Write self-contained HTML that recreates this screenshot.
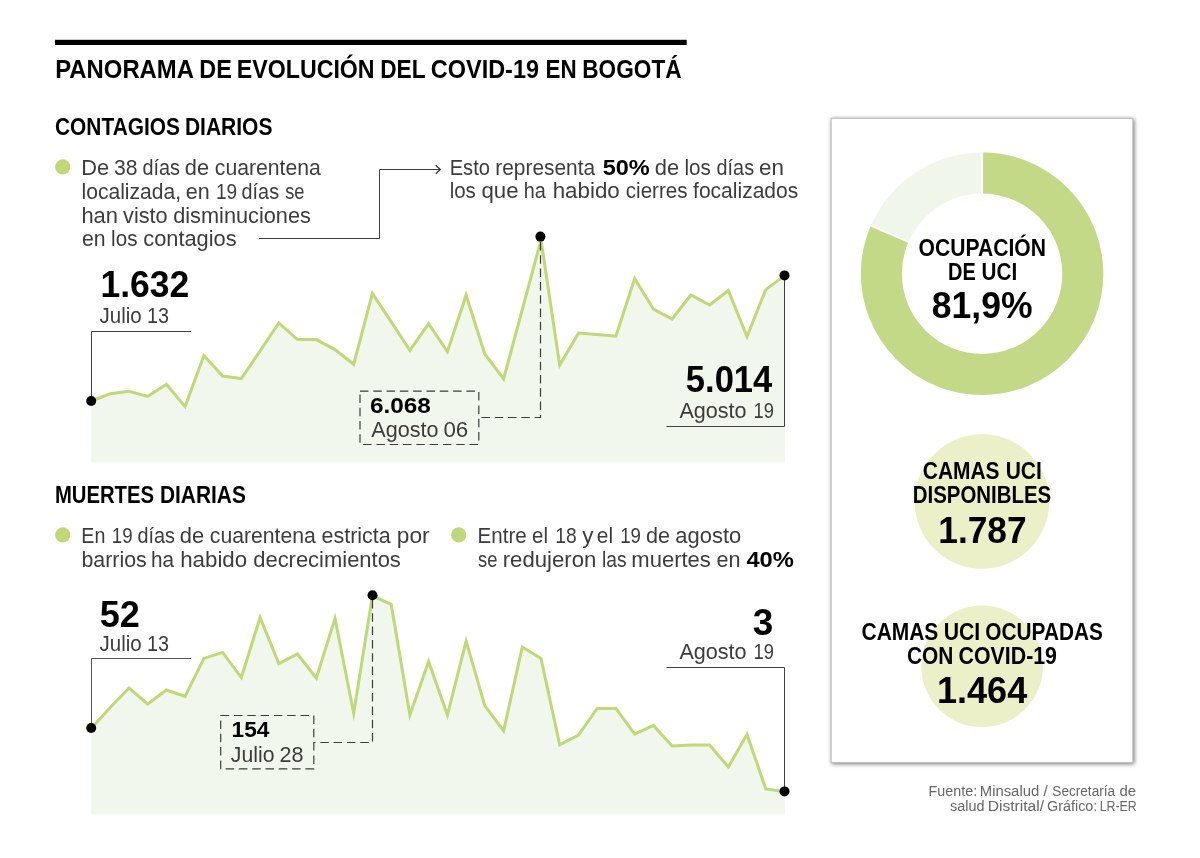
<!DOCTYPE html>
<html lang="es">
<head>
<meta charset="utf-8">
<title>Panorama de evolución del Covid-19 en Bogotá</title>
<style>
html,body{margin:0;padding:0;background:#fff;}
body{width:1200px;height:858px;overflow:hidden;}
svg{display:block;font-family:"Liberation Sans",Arial,Helvetica,sans-serif;}
text{white-space:pre;}
</style>
</head>
<body>
<svg width="1200" height="858" viewBox="0 0 1200 858">
<rect width="1200" height="858" fill="#fff"/>
<rect x="55" y="39.8" width="631.7" height="5.2" fill="#000"/>
<polygon points="91.2,462.3 91.2,401.0 91.5,401.0 110.2,393.8 129.0,391.3 147.7,396.4 166.4,384.2 185.1,406.6 203.9,355.6 222.6,376.0 241.3,378.6 260.1,351.0 278.8,323.0 297.5,339.6 316.3,339.6 335.0,349.6 353.7,364.3 372.4,293.4 391.2,321.9 409.9,350.4 428.6,323.6 447.4,351.6 466.1,295.2 484.8,354.0 503.6,379.0 522.3,309.5 541.0,240.0 559.7,365.0 578.5,333.0 597.2,334.5 615.9,336.2 634.7,278.6 653.4,309.0 672.1,319.0 690.9,295.0 709.6,305.0 728.3,290.5 747.0,336.5 765.8,289.6 784.5,275.6 785,275.6 785,462.3" fill="#f1f7ec"/>
<polyline points="91.5,401.0 110.2,393.8 129.0,391.3 147.7,396.4 166.4,384.2 185.1,406.6 203.9,355.6 222.6,376.0 241.3,378.6 260.1,351.0 278.8,323.0 297.5,339.6 316.3,339.6 335.0,349.6 353.7,364.3 372.4,293.4 391.2,321.9 409.9,350.4 428.6,323.6 447.4,351.6 466.1,295.2 484.8,354.0 503.6,379.0 522.3,309.5 541.0,240.0 559.7,365.0 578.5,333.0 597.2,334.5 615.9,336.2 634.7,278.6 653.4,309.0 672.1,319.0 690.9,295.0 709.6,305.0 728.3,290.5 747.0,336.5 765.8,289.6 784.5,275.6" fill="none" stroke="#bfd878" stroke-width="3.0" stroke-linejoin="miter" stroke-miterlimit="10"/>
<polygon points="91.2,814.2 91.2,728 91.5,728.0 110.2,707.5 129.0,688.0 147.7,704.0 166.4,690.0 185.1,696.4 203.9,658.4 222.6,652.4 241.3,677.6 260.1,617.5 278.8,663.6 297.5,654.0 316.3,678.0 335.0,618.5 353.7,713.2 372.4,596.0 391.2,604.4 409.9,715.0 428.6,661.6 447.4,715.0 466.1,641.2 484.8,705.6 503.6,731.0 522.3,647.0 541.0,658.4 559.7,744.8 578.5,735.0 597.2,708.4 615.9,708.4 634.7,734.2 653.4,725.4 672.1,746.0 690.9,745.0 709.6,745.0 728.3,767.0 747.0,734.4 765.8,789.0 784.5,791.4 785,791.4 785,814.2" fill="#f1f7ec"/>
<polyline points="91.5,728.0 110.2,707.5 129.0,688.0 147.7,704.0 166.4,690.0 185.1,696.4 203.9,658.4 222.6,652.4 241.3,677.6 260.1,617.5 278.8,663.6 297.5,654.0 316.3,678.0 335.0,618.5 353.7,713.2 372.4,596.0 391.2,604.4 409.9,715.0 428.6,661.6 447.4,715.0 466.1,641.2 484.8,705.6 503.6,731.0 522.3,647.0 541.0,658.4 559.7,744.8 578.5,735.0 597.2,708.4 615.9,708.4 634.7,734.2 653.4,725.4 672.1,746.0 690.9,745.0 709.6,745.0 728.3,767.0 747.0,734.4 765.8,789.0 784.5,791.4" fill="none" stroke="#bfd878" stroke-width="3.0" stroke-linejoin="miter" stroke-miterlimit="10"/>
<circle cx="62.7" cy="166.8" r="7.6" fill="#c0d77c"/>
<circle cx="62.7" cy="534.8" r="7.6" fill="#c0d77c"/>
<circle cx="458.7" cy="534.8" r="7.6" fill="#c0d77c"/>
<path d="M259 238.5 H379.5 V169.5 H440" fill="none" stroke="#404040" stroke-width="1"/>
<path d="M435.8 165.3 L440.3 169.5 L435.8 173.7" fill="none" stroke="#333" stroke-width="1.3"/>
<path d="M191 331.5 H91.5 V400" fill="none" stroke="#404040" stroke-width="1"/>
<circle cx="91.2" cy="401.0" r="5" fill="#000"/>
<path d="M540.5 242 V417.5 H479" fill="none" stroke="#3c3c3c" stroke-width="1.2" stroke-dasharray="8.5 4.8"/>
<path d="M360 391.2 H478.8 V444.5 H360 Z" fill="none" stroke="#3c3c3c" stroke-width="1.2" stroke-dasharray="8.5 4.8"/>
<circle cx="540.4" cy="236.6" r="5" fill="#000"/>
<path d="M666.5 426.5 H784.5 V276" fill="none" stroke="#404040" stroke-width="1"/>
<circle cx="784.5" cy="275.4" r="5" fill="#000"/>
<path d="M191 658.5 H91.5 V728" fill="none" stroke="#555" stroke-width="1"/>
<circle cx="91.2" cy="728" r="5" fill="#000"/>
<path d="M372.5 600 V742.5 H314" fill="none" stroke="#3c3c3c" stroke-width="1.2" stroke-dasharray="8.5 4.8"/>
<path d="M220.7 715.5 H313.8 V768.8 H220.7 Z" fill="none" stroke="#3c3c3c" stroke-width="1.2" stroke-dasharray="8.5 4.8"/>
<circle cx="372.5" cy="595.3" r="5" fill="#000"/>
<path d="M666.5 667.5 H784.5 V791" fill="none" stroke="#404040" stroke-width="1"/>
<circle cx="784.5" cy="791.4" r="5" fill="#000"/>
<rect x="831.2" y="118.4" width="301.6" height="644.0" fill="#fff" stroke="#c0c0c0" stroke-width="1" style="filter:drop-shadow(1.8px 1.8px 2px rgba(0,0,0,0.55))"/>
<circle cx="982.1" cy="273.7" r="100.7" fill="none" stroke="#f1f6ea" stroke-width="41.0"/>
<circle cx="982.1" cy="273.7" r="100.7" fill="none" stroke="#c4d987" stroke-width="41.0" stroke-dasharray="515.66 632.72" transform="rotate(-90 982.1 273.7)"/>
<line x1="982.10" y1="195.50" x2="982.10" y2="150.50" stroke="#fff" stroke-width="2"/>
<line x1="910.33" y1="242.64" x2="869.03" y2="224.77" stroke="#fff" stroke-width="2"/>
<circle cx="982" cy="501.5" r="67.3" fill="#ebf0c8"/>
<circle cx="982.1" cy="666.3" r="60.8" fill="#ebf0c8"/>
<text y="78.00" font-size="26.0" font-weight="700" fill="#000"><tspan x="55.20" textLength="137.92" lengthAdjust="spacingAndGlyphs">PANORAMA</tspan> <tspan x="199.22" textLength="32.59" lengthAdjust="spacingAndGlyphs">DE</tspan> <tspan x="236.74" textLength="137.89" lengthAdjust="spacingAndGlyphs">EVOLUCIÓN</tspan> <tspan x="380.19" textLength="44.96" lengthAdjust="spacingAndGlyphs">DEL</tspan> <tspan x="430.80" textLength="108.23" lengthAdjust="spacingAndGlyphs">COVID-19</tspan> <tspan x="545.49" textLength="31.12" lengthAdjust="spacingAndGlyphs">EN</tspan> <tspan x="582.28" textLength="99.27" lengthAdjust="spacingAndGlyphs">BOGOTÁ</tspan></text>
<text y="135.30" font-size="23.3" font-weight="700" fill="#000"><tspan x="55.00" textLength="124.97" lengthAdjust="spacingAndGlyphs">CONTAGIOS</tspan> <tspan x="184.95" textLength="87.50" lengthAdjust="spacingAndGlyphs">DIARIOS</tspan></text>
<text y="503.40" font-size="23.3" font-weight="700" fill="#000"><tspan x="54.89" textLength="99.20" lengthAdjust="spacingAndGlyphs">MUERTES</tspan> <tspan x="159.96" textLength="85.87" lengthAdjust="spacingAndGlyphs">DIARIAS</tspan></text>
<text y="175.00" font-size="22.4" fill="#3c3c3c"><tspan x="81.19" textLength="27.96" lengthAdjust="spacingAndGlyphs">De</tspan> <tspan x="114.06" textLength="23.50" lengthAdjust="spacingAndGlyphs">38</tspan> <tspan x="142.41" textLength="37.52" lengthAdjust="spacingAndGlyphs">días</tspan> <tspan x="184.83" textLength="24.26" lengthAdjust="spacingAndGlyphs">de</tspan> <tspan x="214.85" textLength="105.99" lengthAdjust="spacingAndGlyphs">cuarentena</tspan></text>
<text y="198.80" font-size="22.4" fill="#3c3c3c"><tspan x="81.49" textLength="99.66" lengthAdjust="spacingAndGlyphs">localizada,</tspan> <tspan x="185.74" textLength="23.91" lengthAdjust="spacingAndGlyphs">en</tspan> <tspan x="216.01" textLength="21.17" lengthAdjust="spacingAndGlyphs">19</tspan> <tspan x="241.62" textLength="37.42" lengthAdjust="spacingAndGlyphs">días</tspan> <tspan x="285.19" textLength="19.25" lengthAdjust="spacingAndGlyphs">se</tspan></text>
<text y="222.60" font-size="22.4" fill="#3c3c3c"><tspan x="81.43" textLength="36.60" lengthAdjust="spacingAndGlyphs">han</tspan> <tspan x="123.06" textLength="44.66" lengthAdjust="spacingAndGlyphs">visto</tspan> <tspan x="173.23" textLength="137.63" lengthAdjust="spacingAndGlyphs">disminuciones</tspan></text>
<text y="246.40" font-size="22.4" fill="#3c3c3c"><tspan x="81.95" textLength="23.58" lengthAdjust="spacingAndGlyphs">en</tspan> <tspan x="111.12" textLength="26.39" lengthAdjust="spacingAndGlyphs">los</tspan> <tspan x="143.23" textLength="93.41" lengthAdjust="spacingAndGlyphs">contagios</tspan></text>
<text y="174.60" font-size="22.4" fill="#3c3c3c"><tspan x="449.73" textLength="40.20" lengthAdjust="spacingAndGlyphs">Esto</tspan> <tspan x="495.30" textLength="99.74" lengthAdjust="spacingAndGlyphs">representa</tspan> <tspan x="602.73" textLength="47.06" lengthAdjust="spacingAndGlyphs" font-weight="700" fill="#000" font-size="22.9">50%</tspan> <tspan x="654.82" textLength="24.36" lengthAdjust="spacingAndGlyphs">de</tspan> <tspan x="684.42" textLength="26.39" lengthAdjust="spacingAndGlyphs">los</tspan> <tspan x="716.62" textLength="37.42" lengthAdjust="spacingAndGlyphs">días</tspan> <tspan x="759.00" textLength="24.91" lengthAdjust="spacingAndGlyphs">en</tspan></text>
<text y="198.40" font-size="22.4" fill="#3c3c3c"><tspan x="449.63" textLength="26.17" lengthAdjust="spacingAndGlyphs">los</tspan> <tspan x="481.51" textLength="37.09" lengthAdjust="spacingAndGlyphs">que</tspan> <tspan x="523.67" textLength="22.04" lengthAdjust="spacingAndGlyphs">ha</tspan> <tspan x="552.70" textLength="67.09" lengthAdjust="spacingAndGlyphs">habido</tspan> <tspan x="625.78" textLength="61.78" lengthAdjust="spacingAndGlyphs">cierres</tspan> <tspan x="693.07" textLength="105.17" lengthAdjust="spacingAndGlyphs">focalizados</tspan></text>
<text y="296.70" font-size="37" font-weight="700" fill="#000"><tspan x="100.44" textLength="88.89" lengthAdjust="spacingAndGlyphs">1.632</tspan></text>
<text y="323.00" font-size="22.4" fill="#3c3c3c"><tspan x="99.54" textLength="42.10" lengthAdjust="spacingAndGlyphs">Julio</tspan> <tspan x="146.96" textLength="21.94" lengthAdjust="spacingAndGlyphs">13</tspan></text>
<text y="412.60" font-size="22.9" font-weight="700" fill="#000"><tspan x="370.00" textLength="60.84" lengthAdjust="spacingAndGlyphs">6.068</tspan></text>
<text y="436.50" font-size="22.4" fill="#3c3c3c"><tspan x="371.30" textLength="67.13" lengthAdjust="spacingAndGlyphs">Agosto</tspan> <tspan x="443.40" textLength="24.80" lengthAdjust="spacingAndGlyphs">06</tspan></text>
<text y="391.60" font-size="37" font-weight="700" fill="#000"><tspan x="685.83" textLength="86.45" lengthAdjust="spacingAndGlyphs">5.014</tspan></text>
<text y="417.80" font-size="22.4" fill="#3c3c3c"><tspan x="679.40" textLength="67.13" lengthAdjust="spacingAndGlyphs">Agosto</tspan> <tspan x="753.57" textLength="20.38" lengthAdjust="spacingAndGlyphs">19</tspan></text>
<text y="542.70" font-size="22.4" fill="#3c3c3c"><tspan x="81.36" textLength="24.06" lengthAdjust="spacingAndGlyphs">En</tspan> <tspan x="111.84" textLength="20.83" lengthAdjust="spacingAndGlyphs">19</tspan> <tspan x="137.41" textLength="37.52" lengthAdjust="spacingAndGlyphs">días</tspan> <tspan x="179.82" textLength="24.36" lengthAdjust="spacingAndGlyphs">de</tspan> <tspan x="209.85" textLength="105.99" lengthAdjust="spacingAndGlyphs">cuarentena</tspan> <tspan x="321.54" textLength="69.18" lengthAdjust="spacingAndGlyphs">estricta</tspan> <tspan x="396.78" textLength="32.80" lengthAdjust="spacingAndGlyphs">por</tspan></text>
<text y="566.50" font-size="22.4" fill="#3c3c3c"><tspan x="81.47" textLength="65.24" lengthAdjust="spacingAndGlyphs">barrios</tspan> <tspan x="151.11" textLength="23.00" lengthAdjust="spacingAndGlyphs">ha</tspan> <tspan x="180.21" textLength="66.99" lengthAdjust="spacingAndGlyphs">habido</tspan> <tspan x="253.22" textLength="147.61" lengthAdjust="spacingAndGlyphs">decrecimientos</tspan></text>
<text y="542.70" font-size="22.4" fill="#3c3c3c"><tspan x="477.59" textLength="49.15" lengthAdjust="spacingAndGlyphs">Entre</tspan> <tspan x="532.09" textLength="15.93" lengthAdjust="spacingAndGlyphs">el</tspan> <tspan x="555.20" textLength="21.38" lengthAdjust="spacingAndGlyphs">18</tspan> <tspan x="582.33" textLength="11.20" lengthAdjust="spacingAndGlyphs">y</tspan> <tspan x="596.87" textLength="16.27" lengthAdjust="spacingAndGlyphs">el</tspan> <tspan x="620.24" textLength="20.72" lengthAdjust="spacingAndGlyphs">19</tspan> <tspan x="646.03" textLength="24.04" lengthAdjust="spacingAndGlyphs">de</tspan> <tspan x="675.32" textLength="65.95" lengthAdjust="spacingAndGlyphs">agosto</tspan></text>
<text y="566.50" font-size="22.4" fill="#3c3c3c"><tspan x="478.09" textLength="19.36" lengthAdjust="spacingAndGlyphs">se</tspan> <tspan x="502.72" textLength="93.63" lengthAdjust="spacingAndGlyphs">redujeron</tspan> <tspan x="602.01" textLength="24.54" lengthAdjust="spacingAndGlyphs">las</tspan> <tspan x="631.32" textLength="79.55" lengthAdjust="spacingAndGlyphs">muertes</tspan> <tspan x="716.54" textLength="24.02" lengthAdjust="spacingAndGlyphs">en</tspan> <tspan x="746.44" textLength="47.46" lengthAdjust="spacingAndGlyphs" font-weight="700" fill="#000" font-size="22.9">40%</tspan></text>
<text y="627.00" font-size="37" font-weight="700" fill="#000"><tspan x="99.78" textLength="40.19" lengthAdjust="spacingAndGlyphs">52</tspan></text>
<text y="651.00" font-size="22.4" fill="#3c3c3c"><tspan x="99.54" textLength="42.10" lengthAdjust="spacingAndGlyphs">Julio</tspan> <tspan x="146.96" textLength="21.94" lengthAdjust="spacingAndGlyphs">13</tspan></text>
<text y="737.20" font-size="22.9" font-weight="700" fill="#000"><tspan x="231.61" textLength="37.89" lengthAdjust="spacingAndGlyphs">154</tspan></text>
<text y="761.50" font-size="22.4" fill="#3c3c3c"><tspan x="230.83" textLength="43.64" lengthAdjust="spacingAndGlyphs">Julio</tspan> <tspan x="279.40" textLength="23.98" lengthAdjust="spacingAndGlyphs">28</tspan></text>
<text y="634.60" font-size="37" font-weight="700" fill="#000"><tspan x="752.70" textLength="20.52" lengthAdjust="spacingAndGlyphs">3</tspan></text>
<text y="658.80" font-size="22.4" fill="#3c3c3c"><tspan x="679.40" textLength="67.13" lengthAdjust="spacingAndGlyphs">Agosto</tspan> <tspan x="753.57" textLength="20.38" lengthAdjust="spacingAndGlyphs">19</tspan></text>
<text y="255.60" font-size="23.3" font-weight="700" fill="#000"><tspan x="918.59" textLength="127.30" lengthAdjust="spacingAndGlyphs">OCUPACIÓN</tspan></text>
<text y="279.50" font-size="23.3" font-weight="700" fill="#000"><tspan x="948.01" textLength="27.73" lengthAdjust="spacingAndGlyphs">DE</tspan> <tspan x="981.57" textLength="35.57" lengthAdjust="spacingAndGlyphs">UCI</tspan></text>
<text y="318.00" font-size="37" font-weight="700" fill="#000"><tspan x="931.80" textLength="100.68" lengthAdjust="spacingAndGlyphs">81,9%</tspan></text>
<text y="478.70" font-size="23.3" font-weight="700" fill="#000"><tspan x="922.80" textLength="76.73" lengthAdjust="spacingAndGlyphs">CAMAS</tspan> <tspan x="1005.65" textLength="36.22" lengthAdjust="spacingAndGlyphs">UCI</tspan></text>
<text y="502.90" font-size="23.3" font-weight="700" fill="#000"><tspan x="912.79" textLength="138.44" lengthAdjust="spacingAndGlyphs">DISPONIBLES</tspan></text>
<text y="542.50" font-size="37" font-weight="700" fill="#000"><tspan x="938.25" textLength="88.37" lengthAdjust="spacingAndGlyphs">1.787</tspan></text>
<text y="640.20" font-size="23.3" font-weight="700" fill="#000"><tspan x="861.50" textLength="76.83" lengthAdjust="spacingAndGlyphs">CAMAS</tspan> <tspan x="943.63" textLength="36.55" lengthAdjust="spacingAndGlyphs">UCI</tspan> <tspan x="985.31" textLength="117.55" lengthAdjust="spacingAndGlyphs">OCUPADAS</tspan></text>
<text y="664.10" font-size="23.3" font-weight="700" fill="#000"><tspan x="907.00" textLength="46.37" lengthAdjust="spacingAndGlyphs">CON</tspan> <tspan x="958.58" textLength="98.39" lengthAdjust="spacingAndGlyphs">COVID-19</tspan></text>
<text y="703.40" font-size="37" font-weight="700" fill="#000"><tspan x="936.91" textLength="90.29" lengthAdjust="spacingAndGlyphs">1.464</tspan></text>
<text y="795.50" font-size="15.2" fill="#666"><tspan x="928.52" textLength="48.68" lengthAdjust="spacingAndGlyphs">Fuente:</tspan> <tspan x="979.78" textLength="59.43" lengthAdjust="spacingAndGlyphs">Minsalud</tspan> <tspan x="1043.62" textLength="4.23" lengthAdjust="spacingAndGlyphs">/</tspan> <tspan x="1052.33" textLength="62.74" lengthAdjust="spacingAndGlyphs">Secretaría</tspan> <tspan x="1119.46" textLength="16.69" lengthAdjust="spacingAndGlyphs">de</tspan></text>
<text y="811.10" font-size="15.2" fill="#666"><tspan x="950.03" textLength="34.48" lengthAdjust="spacingAndGlyphs">salud</tspan> <tspan x="987.71" textLength="56.40" lengthAdjust="spacingAndGlyphs">Distrital/</tspan> <tspan x="1046.99" textLength="50.36" lengthAdjust="spacingAndGlyphs">Gráfico:</tspan> <tspan x="1099.69" textLength="36.99" lengthAdjust="spacingAndGlyphs">LR-ER</tspan></text>
</svg>
</body>
</html>
